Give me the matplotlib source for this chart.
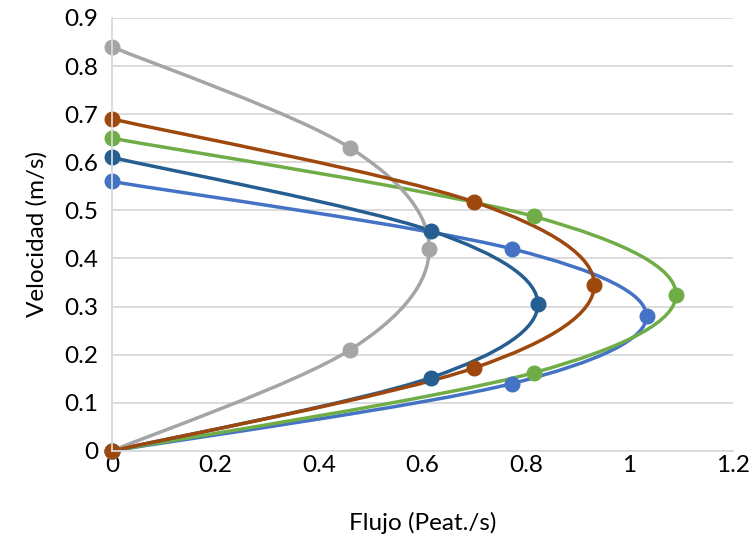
import matplotlib
matplotlib.use("Agg")
import matplotlib.pyplot as plt
from matplotlib.path import Path
from matplotlib.patches import PathPatch
import numpy as np

plt.rcParams['font.family'] = ['Lato', 'DejaVu Sans']

# Data: flow (x) and speed (y) for each series
flujo_azul = [0, 0.773, 1.033, 0.773, 0]
vel_azul = [0.56, 0.42, 0.28, 0.14, 0]
flujo_verde = [0, 0.815, 1.09, 0.815, 0]
vel_verde = [0.65, 0.4875, 0.325, 0.1625, 0]
flujo_azul_osc = [0, 0.617, 0.823, 0.617, 0]
vel_azul_osc = [0.61, 0.4575, 0.305, 0.1525, 0]
flujo_gris = [0, 0.46, 0.613, 0.46, 0]
vel_gris = [0.84, 0.63, 0.42, 0.21, 0]
flujo_marron = [0, 0.70, 0.932, 0.70, 0]
vel_marron = [0.69, 0.5175, 0.345, 0.1725, 0]

series = [
    (flujo_azul, vel_azul, '#4472C4'),
    (flujo_verde, vel_verde, '#70AD47'),
    (flujo_azul_osc, vel_azul_osc, '#255E91'),
    (flujo_gris, vel_gris, '#A5A5A5'),
    (flujo_marron, vel_marron, '#9E480E'),
]

x_ticks = [0, 0.2, 0.4, 0.6, 0.8, 1, 1.2]
x_labels = ['0', '0.2', '0.4', '0.6', '0.8', '1', '1.2']
y_ticks = [0, 0.1, 0.2, 0.3, 0.4, 0.5, 0.6, 0.7, 0.8, 0.9]
y_labels = ['0', '0.1', '0.2', '0.3', '0.4', '0.5', '0.6', '0.7', '0.8', '0.9']


def smooth_path(xs, ys, transform):
    # Excel-like smoothing: cubic Bezier segments (Catmull-Rom style)
    pts = np.column_stack([xs, ys]).astype(float)
    pts = transform.transform(pts)
    n = len(pts)
    verts = [pts[0]]
    codes = [Path.MOVETO]
    for i in range(n - 1):
        p0 = pts[i - 1] if i > 0 else pts[i]
        p1 = pts[i]
        p2 = pts[i + 1]
        p3 = pts[i + 2] if i + 2 < n else pts[i + 1]
        c1 = p1 + (p2 - p0) / 6.0
        c2 = p2 - (p3 - p1) / 6.0
        verts += [c1, c2, p2]
        codes += [Path.CURVE4] * 3
    return Path(verts, codes)


fig = plt.figure(figsize=(7.51, 5.42), dpi=100)
ax = fig.add_axes([0.149, 0.168, 0.827, 0.799])
ax.set_xlim(0, 1.2)
ax.set_ylim(0, 0.9)
ax.set_xticks(x_ticks)
ax.set_xticklabels(x_labels)
ax.set_yticks(y_ticks)
ax.set_yticklabels(y_labels)
ax.grid(axis='y', color='#D9D9D9', linewidth=1.3)
ax.set_axisbelow(True)
for s in ['top', 'right']:
    ax.spines[s].set_visible(False)
for s in ['left', 'bottom']:
    ax.spines[s].set_color('#D9D9D9')
    ax.spines[s].set_linewidth(1.3)
ax.tick_params(length=0, labelsize=17.5, colors='#000000')
ax.tick_params(axis='x', pad=3)
ax.tick_params(axis='y', pad=10)

fig.canvas.draw()
for fx, vy, col in series:
    path = smooth_path(fx, vy, ax.transData)
    inv = ax.transData.inverted()
    dpath = Path(inv.transform(path.vertices), path.codes)
    patch = PathPatch(dpath, facecolor='none', edgecolor=col, linewidth=2.5,
                      transform=ax.transData, clip_on=False)
    ax.add_patch(patch)
    ax.plot(fx, vy, linestyle='none', marker='o', markersize=10.5, color=col,
            clip_on=False)

ax.set_xlabel('Flujo (Peat./s)', fontsize=17.5, labelpad=26)
ax.set_ylabel('Velocidad (m/s)', fontsize=17.5, labelpad=12)

fig.savefig('out.png', dpi=100)
